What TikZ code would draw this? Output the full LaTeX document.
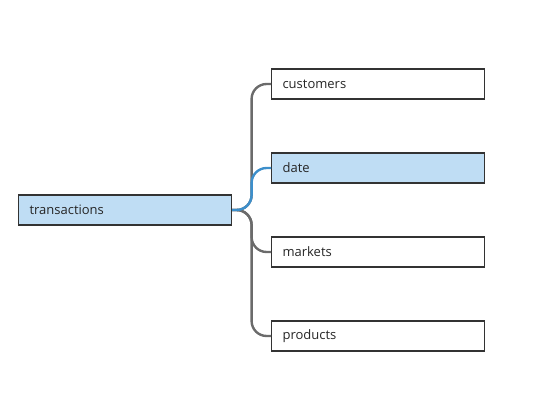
\documentclass[tikz,border=0pt]{standalone}
\usepackage{fontspec}
\setmainfont{Open Sans}
\begin{document}
\definecolor{selfill}{HTML}{BFDDF4}
\definecolor{edgeline}{HTML}{333333}
\definecolor{linkgray}{HTML}{6B6B6B}
\definecolor{linkblue}{HTML}{3D8FCB}
\begin{tikzpicture}[x=1pt,y=-1pt,
  table/.style={draw=edgeline,line width=1.1pt,fill=white,minimum width=213pt,minimum height=30pt,
    anchor=west,text width=191pt,align=left,inner xsep=11pt,font=\fontsize{13}{15}\selectfont,text=black!85},
  picked/.style={table,fill=selfill},
  link/.style={line width=2.4pt,linkgray,rounded corners=15pt},
  activelink/.style={link,linkblue}]
\useasboundingbox (0,0) rectangle (546,407);
\node[picked] (tr) at (18,210) {transactions};
\node[table] (cu) at (271,84) {customers};
\node[picked] (da) at (271,168) {date};
\node[table] (ma) at (271,252) {markets};
\node[table] (pr) at (271,336) {products};
\draw[link] (tr.east) -- ++(19.5,0) |- (cu.west);
\draw[link] (tr.east) -- ++(19.5,0) |- (ma.west);
\draw[link] (tr.east) -- ++(19.5,0) |- (pr.west);
\draw[activelink] (tr.east) -- ++(19.5,0) |- (da.west);
\end{tikzpicture}
\end{document}
